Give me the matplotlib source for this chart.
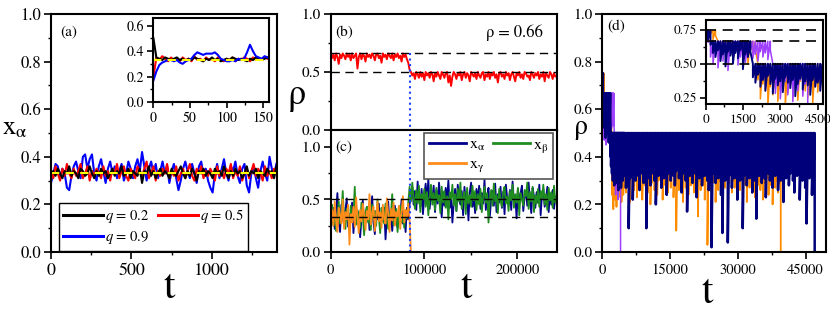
import numpy as np
import matplotlib
matplotlib.use('Agg')
import matplotlib.pyplot as plt
from matplotlib.ticker import MultipleLocator, FixedLocator

plt.rcParams['font.family'] = ['STIXGeneral', 'DejaVu Serif']
plt.rcParams['mathtext.fontset'] = 'stix'

# ---------------- data: panel (a) ----------------
a_q_labels = [r'$q$ = 0.2', r'$q$ = 0.5', r'$q$ = 0.9']
a_tmax = 1400
a_black = [0.33, 0.34, 0.32, 0.35, 0.33, 0.31, 0.34, 0.33, 0.36, 0.32,
           0.34, 0.33, 0.31, 0.35, 0.34, 0.32, 0.33, 0.36, 0.33, 0.31,
           0.34, 0.32, 0.35, 0.33, 0.34, 0.31, 0.33, 0.35, 0.32, 0.34,
           0.33, 0.36, 0.32, 0.33, 0.35, 0.31, 0.34, 0.33, 0.32, 0.35,
           0.29, 0.34, 0.33, 0.36, 0.32, 0.34, 0.31, 0.33, 0.35, 0.32,
           0.34, 0.33, 0.31, 0.35, 0.33, 0.32, 0.34, 0.36, 0.33, 0.31,
           0.34, 0.32, 0.35, 0.33, 0.30, 0.34, 0.33, 0.35, 0.32, 0.34,
           0.33, 0.31, 0.35, 0.33, 0.34, 0.32, 0.36, 0.33, 0.31, 0.34,
           0.32, 0.35, 0.33, 0.34, 0.31, 0.33, 0.36, 0.32, 0.34, 0.33,
           0.35, 0.31, 0.34, 0.33, 0.32, 0.35, 0.33, 0.34, 0.31, 0.36]
a_red = [0.34, 0.31, 0.36, 0.33, 0.30, 0.35, 0.32, 0.37, 0.33, 0.31,
         0.35, 0.32, 0.34, 0.37, 0.31, 0.33, 0.36, 0.30, 0.34, 0.32,
         0.35, 0.33, 0.31, 0.36, 0.32, 0.34, 0.30, 0.35, 0.33, 0.37,
         0.31, 0.34, 0.36, 0.32, 0.30, 0.35, 0.33, 0.31, 0.36, 0.34,
         0.32, 0.35, 0.38, 0.31, 0.33, 0.36, 0.30, 0.34, 0.32, 0.35,
         0.33, 0.37, 0.31, 0.34, 0.32, 0.36, 0.30, 0.33, 0.35, 0.31,
         0.34, 0.37, 0.32, 0.30, 0.35, 0.33, 0.36, 0.31, 0.34, 0.32,
         0.35, 0.33, 0.30, 0.36, 0.32, 0.34, 0.31, 0.35, 0.33, 0.37,
         0.31, 0.34, 0.32, 0.36, 0.30, 0.33, 0.35, 0.31, 0.34, 0.37,
         0.32, 0.35, 0.33, 0.30, 0.36, 0.32, 0.34, 0.31, 0.35, 0.33]
a_blue = [0.29, 0.33, 0.37, 0.36, 0.31, 0.35, 0.33, 0.27, 0.26, 0.32,
          0.36, 0.38, 0.34, 0.31, 0.40, 0.41, 0.35, 0.39, 0.41, 0.33,
          0.30, 0.36, 0.39, 0.34, 0.29, 0.35, 0.38, 0.33, 0.36, 0.31,
          0.34, 0.37, 0.30, 0.33, 0.38, 0.35, 0.31, 0.36, 0.39, 0.34,
          0.42, 0.36, 0.30, 0.35, 0.38, 0.33, 0.37, 0.31, 0.34, 0.38,
          0.33, 0.36, 0.29, 0.34, 0.37, 0.31, 0.26, 0.30, 0.35, 0.38,
          0.34, 0.31, 0.37, 0.33, 0.29, 0.36, 0.38, 0.32, 0.35, 0.30,
          0.27, 0.25, 0.33, 0.37, 0.31, 0.35, 0.39, 0.33, 0.30, 0.36,
          0.34, 0.38, 0.32, 0.29, 0.35, 0.37, 0.28, 0.25, 0.33, 0.36,
          0.31, 0.27, 0.34, 0.38, 0.33, 0.30, 0.40, 0.35, 0.32, 0.37]
a_ref = 0.333
# inset of (a): early times, step 4
a_in_tmax = 156
a_in_black = [0.50, 0.35, 0.34, 0.33, 0.35, 0.34, 0.33, 0.34, 0.35, 0.33,
              0.34, 0.32, 0.34, 0.33, 0.35, 0.34, 0.33, 0.32, 0.34, 0.33,
              0.35, 0.33, 0.34, 0.32, 0.33, 0.34, 0.33, 0.35, 0.34, 0.33,
              0.34, 0.33, 0.32, 0.34, 0.33, 0.35, 0.34, 0.33, 0.34, 0.35]
a_in_red = [0.20, 0.35, 0.33, 0.36, 0.34, 0.32, 0.35, 0.33, 0.34, 0.32,
            0.35, 0.33, 0.34, 0.32, 0.36, 0.33, 0.34, 0.32, 0.35, 0.33,
            0.34, 0.32, 0.35, 0.33, 0.32, 0.34, 0.33, 0.35, 0.32, 0.34,
            0.33, 0.35, 0.34, 0.32, 0.35, 0.33, 0.34, 0.33, 0.35, 0.34]
a_in_blue = [0.17, 0.24, 0.29, 0.31, 0.32, 0.33, 0.33, 0.32, 0.33, 0.31,
             0.30, 0.32, 0.33, 0.34, 0.37, 0.39, 0.38, 0.37, 0.38, 0.38,
             0.38, 0.39, 0.37, 0.34, 0.33, 0.32, 0.32, 0.33, 0.32, 0.34,
             0.33, 0.34, 0.39, 0.45, 0.40, 0.36, 0.35, 0.34, 0.36, 0.35]

# ---------------- data: panels (b), (c) ----------------
bc_tmax = 242000
switch_time = 85000
b_rho_label = 'ρ = 0.66'
b_levels = [0.66, 0.5]
c_levels = [0.5, 0.333]
b_rho = [0.66, 0.62, 0.65, 0.60, 0.66, 0.63, 0.57, 0.65, 0.62, 0.66,
         0.64, 0.61, 0.66, 0.63, 0.65, 0.60, 0.66, 0.62, 0.64, 0.66,
         0.53, 0.63, 0.66, 0.61, 0.65, 0.64, 0.59, 0.66, 0.63, 0.65,
         0.62, 0.66, 0.64, 0.60, 0.65, 0.66, 0.62, 0.64, 0.58, 0.66,
         0.63, 0.65, 0.61, 0.66, 0.64, 0.62, 0.66, 0.60, 0.65, 0.63,
         0.66, 0.62, 0.64, 0.59, 0.66, 0.63, 0.65, 0.61, 0.58, 0.52,
         0.50, 0.47, 0.49, 0.44, 0.50, 0.48, 0.45, 0.50, 0.46, 0.49,
         0.43, 0.50, 0.47, 0.49, 0.45, 0.50, 0.48, 0.42, 0.49, 0.46,
         0.50, 0.47, 0.44, 0.50, 0.48, 0.45, 0.49, 0.50, 0.41, 0.47,
         0.38, 0.46, 0.50, 0.48, 0.44, 0.49, 0.47, 0.50, 0.43, 0.48,
         0.50, 0.45, 0.49, 0.47, 0.42, 0.50, 0.48, 0.46, 0.49, 0.44,
         0.50, 0.47, 0.45, 0.49, 0.50, 0.43, 0.48, 0.46, 0.50, 0.44,
         0.49, 0.47, 0.50, 0.45, 0.48, 0.41, 0.49, 0.50, 0.46, 0.48,
         0.44, 0.50, 0.47, 0.49, 0.43, 0.48, 0.50, 0.46, 0.42, 0.49,
         0.47, 0.50, 0.45, 0.48, 0.44, 0.50, 0.49, 0.46, 0.47, 0.43,
         0.50, 0.48, 0.45, 0.49, 0.47, 0.50, 0.44, 0.48, 0.46, 0.50,
         0.42, 0.49, 0.47, 0.45, 0.50, 0.48, 0.44, 0.49, 0.46, 0.47]
c_labels = [r'x$_{\mathrm{\alpha}}$', r'x$_{\mathrm{\beta}}$', r'x$_{\mathrm{\gamma}}$']
c_alpha = [0.35, 0.28, 0.42, 0.22, 0.38, 0.56, 0.30, 0.19, 0.45, 0.33,
           0.26, 0.40, 0.51, 0.24, 0.36, 0.29, 0.47, 0.18, 0.34, 0.41,
           0.27, 0.38, 0.14, 0.32, 0.49, 0.25, 0.37, 0.30, 0.43, 0.21,
           0.36, 0.53, 0.28, 0.17, 0.39, 0.31, 0.46, 0.24, 0.35, 0.29,
           0.42, 0.12, 0.33, 0.48, 0.26, 0.38, 0.20, 0.35, 0.44, 0.30,
           0.23, 0.40, 0.33, 0.50, 0.27, 0.37, 0.19, 0.42, 0.31, 0.45,
           0.55, 0.62, 0.45, 0.58, 0.40, 0.67, 0.50, 0.43, 0.60, 0.36,
           0.54, 0.65, 0.47, 0.70, 0.41, 0.56, 0.49, 0.63, 0.38, 0.59,
           0.46, 0.66, 0.52, 0.33, 0.57, 0.44, 0.61, 0.50, 0.68, 0.42,
           0.55, 0.28, 0.47, 0.60, 0.39, 0.64, 0.51, 0.45, 0.58, 0.35,
           0.62, 0.48, 0.54, 0.30, 0.57, 0.66, 0.43, 0.52, 0.37, 0.60,
           0.49, 0.63, 0.41, 0.56, 0.46, 0.69, 0.40, 0.53, 0.61, 0.34,
           0.50, 0.58, 0.44, 0.65, 0.38, 0.55, 0.47, 0.62, 0.42, 0.57,
           0.36, 0.64, 0.51, 0.45, 0.59, 0.40, 0.67, 0.48, 0.54, 0.32,
           0.60, 0.46, 0.56, 0.63, 0.39, 0.52, 0.58, 0.44, 0.66, 0.49,
           0.37, 0.61, 0.53, 0.42, 0.57, 0.47, 0.64, 0.35, 0.55, 0.60,
           0.43, 0.50, 0.62, 0.38, 0.56, 0.45, 0.59, 0.41, 0.53, 0.48]
c_beta = [0.30, 0.45, 0.25, 0.39, 0.20, 0.33, 0.48, 0.27, 0.36, 0.58,
          0.31, 0.22, 0.41, 0.34, 0.19, 0.44, 0.29, 0.37, 0.62, 0.26,
          0.40, 0.32, 0.23, 0.47, 0.35, 0.16, 0.38, 0.43, 0.28, 0.34,
          0.21, 0.45, 0.31, 0.39, 0.25, 0.50, 0.33, 0.18, 0.42, 0.36,
          0.27, 0.46, 0.30, 0.22, 0.38, 0.34, 0.55, 0.26, 0.31, 0.41,
          0.19, 0.37, 0.44, 0.28, 0.35, 0.23, 0.40, 0.32, 0.47, 0.62,
          0.48, 0.66, 0.52, 0.41, 0.59, 0.46, 0.63, 0.38, 0.55, 0.50,
          0.60, 0.43, 0.57, 0.35, 0.52, 0.64, 0.45, 0.56, 0.40, 0.61,
          0.49, 0.54, 0.37, 0.62, 0.47, 0.58, 0.42, 0.53, 0.31, 0.57,
          0.50, 0.64, 0.44, 0.55, 0.39, 0.60, 0.48, 0.66, 0.41, 0.52,
          0.57, 0.36, 0.61, 0.46, 0.54, 0.43, 0.63, 0.49, 0.58, 0.40,
          0.55, 0.45, 0.60, 0.38, 0.53, 0.62, 0.47, 0.56, 0.28, 0.51,
          0.59, 0.44, 0.65, 0.48, 0.54, 0.37, 0.60, 0.50, 0.43, 0.57,
          0.62, 0.46, 0.53, 0.39, 0.58, 0.49, 0.64, 0.42, 0.55, 0.47,
          0.61, 0.35, 0.56, 0.50, 0.44, 0.59, 0.53, 0.66, 0.41, 0.57,
          0.48, 0.62, 0.38, 0.54, 0.46, 0.60, 0.43, 0.58, 0.51, 0.64,
          0.45, 0.55, 0.40, 0.61, 0.49, 0.57, 0.42, 0.63, 0.47, 0.52]
c_gamma = [0.33, 0.40, 0.25, 0.48, 0.30, 0.19, 0.42, 0.35, 0.27, 0.50,
           0.22, 0.38, 0.31, 0.45, 0.07, 0.36, 0.28, 0.43, 0.24, 0.52,
           0.33, 0.18, 0.40, 0.29, 0.46, 0.35, 0.21, 0.39, 0.31, 0.55,
           0.26, 0.37, 0.43, 0.20, 0.34, 0.48, 0.29, 0.38, 0.23, 0.45,
           0.32, 0.27, 0.51, 0.36, 0.19, 0.41, 0.30, 0.47, 0.25, 0.38,
           0.34, 0.44, 0.22, 0.37, 0.53, 0.28, 0.40, 0.33, 0.46, 0.30] + [0.0] * 110

# ---------------- data: panel (d) ----------------
d_levels = [0.75, 0.667, 0.5]
# navy
d_navy_changes = [300, 1900]
d_navy_early = [0.66, 0.68, 0.64,
                0.58, 0.55, 0.60, 0.52, 0.57, 0.48, 0.59, 0.56, 0.50, 0.58,
                0.54, 0.60, 0.46, 0.57, 0.55, 0.59,
                0.40, 0.36, 0.42, 0.33, 0.38, 0.30, 0.41, 0.35, 0.28, 0.39,
                0.34, 0.37, 0.29, 0.40, 0.36, 0.32, 0.38, 0.26, 0.35, 0.39,
                0.31, 0.37, 0.34, 0.27, 0.38, 0.33, 0.36, 0.30, 0.39, 0.35, 0.32]
d_navy_late = [0.33, 0.27, 0.36, 0.10, 0.31, 0.35, 0.22, 0.34, 0.30, 0.37,
               0.32, 0.26, 0.35, 0.33, 0.29, 0.36, 0.10, 0.34, 0.31, 0.28,
               0.36, 0.33, 0.30, 0.20, 0.35, 0.32, 0.37, 0.27, 0.34, 0.31,
               0.36, 0.24, 0.33, 0.35, 0.30, 0.37, 0.32, 0.28, 0.34, 0.36,
               0.31, 0.35, 0.25, 0.33, 0.37, 0.30, 0.17, 0.34, 0.32, 0.36,
               0.29, 0.35, 0.33, 0.23, 0.36, 0.31, 0.34, 0.28, 0.37, 0.32,
               0.35, 0.30, 0.26, 0.34, 0.02, 0.33, 0.36, 0.29, 0.35, 0.31,
               0.37, 0.24, 0.08, 0.33, 0.30, 0.36, 0.04, 0.32, 0.35, 0.27,
               0.34, 0.31, 0.36, 0.22, 0.33, 0.30, 0.35, 0.10, 0.32, 0.37,
               0.28, 0.34, 0.31, 0.36, 0.25, 0.33, 0.30, 0.14, 0.35, 0.32,
               0.37, 0.29, 0.34, 0.31, 0.23, 0.36, 0.33, 0.30, 0.35, 0.27,
               0.34, 0.32, 0.37, 0.26, 0.33, 0.30, 0.36, 0.21, 0.34, 0.31,
               0.35, 0.28, 0.33, 0.37, 0.30, 0.25, 0.34, 0.32, 0.36, 0.22,
               0.33, 0.30, 0.35, 0.27, 0.12, 0.34, 0.31, 0.36, 0.24, 0.33,
               0.00]
# orange
d_orange_changes = [500, 2100]
d_orange_early = [0.70, 0.66, 0.72, 0.68, 0.71,
                  0.60, 0.63, 0.56, 0.62, 0.58, 0.64, 0.55, 0.61, 0.59, 0.63,
                  0.57, 0.62, 0.50, 0.60, 0.58, 0.61,
                  0.38, 0.24, 0.35, 0.30, 0.18, 0.33, 0.27, 0.36, 0.22, 0.31,
                  0.34, 0.19, 0.29, 0.35, 0.26, 0.32, 0.23, 0.37, 0.28, 0.30,
                  0.25, 0.34, 0.21, 0.33, 0.29, 0.36, 0.24, 0.31, 0.27]
d_orange_late = [0.30, 0.25, 0.33, 0.28, 0.21, 0.34, 0.29, 0.26, 0.32, 0.23,
                 0.31, 0.27, 0.34, 0.22, 0.30, 0.28, 0.33, 0.25, 0.31, 0.20,
                 0.29, 0.34, 0.26, 0.32, 0.24, 0.30, 0.33, 0.27, 0.22, 0.31,
                 0.28, 0.34, 0.25, 0.30, 0.27, 0.33, 0.23, 0.29, 0.09, 0.31,
                 0.26, 0.33, 0.28, 0.21, 0.32, 0.27, 0.30, 0.24, 0.34, 0.28,
                 0.31, 0.25, 0.29, 0.33, 0.15, 0.30, 0.26, 0.32, 0.28, 0.22,
                 0.30, 0.03, 0.27, 0.33, 0.25, 0.29, 0.31, 0.21, 0.34, 0.26,
                 0.30, 0.28, 0.23, 0.32, 0.27, 0.31, 0.19, 0.29, 0.33, 0.25,
                 0.30, 0.27, 0.32, 0.22, 0.29, 0.26, 0.33, 0.24, 0.30, 0.28,
                 0.21, 0.31, 0.27, 0.33, 0.25, 0.29, 0.23, 0.32, 0.28, 0.30,
                 0.26, 0.33, 0.22, 0.29, 0.27, 0.31, 0.24, 0.30, 0.28, 0.20,
                 0.32, 0.27, 0.30, 0.25, 0.29, 0.00]
# purple
d_purple_changes = [200, 2700]
d_purple = [0.62, 0.66,
            0.55, 0.50, 0.58, 0.47, 0.56, 0.52, 0.60, 0.45, 0.57, 0.53,
            0.59, 0.49, 0.55, 0.58, 0.51, 0.56, 0.60, 0.54, 0.57, 0.52,
            0.59, 0.55, 0.58, 0.53, 0.60,
            0.35, 0.28, 0.38, 0.24, 0.33, 0.37, 0.27, 0.36, 0.22, 0.34,
            0.30, 0.38, 0.26, 0.35, 0.00]

# ---------------- figure ----------------
W, H = 830, 311
fig = plt.figure(figsize=(W / 100, H / 100), dpi=100)


def ax_px(l, t, r, b):
    return fig.add_axes([l / W, (H - b) / H, (r - l) / W, (b - t) / H])


def style(ax, xs=11, ys=11, major=5, minor=2.5):
    for s in ax.spines.values():
        s.set_linewidth(1.5)
    ax.tick_params(which='both', direction='out', top=False, right=False)
    ax.tick_params(which='major', length=major, width=1.2)
    ax.tick_params(which='minor', length=minor, width=1.0)
    ax.tick_params(axis='x', labelsize=xs, pad=3)
    ax.tick_params(axis='y', labelsize=ys, pad=2)


dash = (0, (6, 4))

# ----- (a) -----
ax = ax_px(51, 14, 277, 252)
ta = np.linspace(0, a_tmax, len(a_black))
lb, = ax.plot(ta, a_blue, color='#0000ff', lw=1.5)
lr, = ax.plot(ta, a_red, color='#ff0000', lw=1.5)
lk, = ax.plot(ta, a_black, color='black', lw=1.5)
ax.axhline(a_ref, color='#ffff00', lw=1.5, ls=(0, (4, 3)))
ax.set_xlim(0, 1404)
ax.set_ylim(0, 1.0)
ax.xaxis.set_major_locator(MultipleLocator(500))
ax.xaxis.set_minor_locator(MultipleLocator(250))
ax.yaxis.set_major_locator(MultipleLocator(0.2))
ax.yaxis.set_minor_locator(MultipleLocator(0.1))
style(ax, xs=13, ys=12)
ax.text(0.04, 0.925, '(a)', transform=ax.transAxes, fontsize=11, va='center')
# column-major fill: col1 = q0.2, q0.9 ; col2 = q0.5
leg = ax.legend(handles=[lk, lb, lr],
                labels=[a_q_labels[0], a_q_labels[2], a_q_labels[1]], ncol=2,
                loc='lower left', bbox_to_anchor=(0.035, 0.005), borderaxespad=0,
                fontsize=10.5, handlelength=2.7, handletextpad=0.15,
                columnspacing=0.6, fancybox=False, framealpha=1,
                edgecolor='black', borderpad=0.3, labelspacing=0.3)
leg.get_frame().set_linewidth(1.0)
for h in leg.get_lines():
    h.set_linewidth(2.2)

axi = ax_px(152.7, 18, 269, 102)
tai = np.linspace(0, a_in_tmax, len(a_in_blue))
axi.plot(tai, a_in_red, color='#ff0000', lw=1.5)
axi.plot(tai, a_in_black, color='black', lw=1.5)
axi.plot(tai, a_in_blue, color='#0000ff', lw=1.5)
axi.axhline(a_ref, color='#ffff00', lw=1.5, ls=(0, (4, 3)))
axi.set_xlim(-1, 158)
axi.set_ylim(0, 0.66)
axi.xaxis.set_major_locator(MultipleLocator(50))
axi.xaxis.set_minor_locator(MultipleLocator(25))
axi.yaxis.set_major_locator(MultipleLocator(0.2))
axi.yaxis.set_minor_locator(MultipleLocator(0.1))
style(axi, xs=10, ys=10, major=4, minor=2)

# ----- (b) -----
tbc = np.linspace(0, bc_tmax, len(b_rho))
axb = ax_px(330.7, 14, 556.7, 130)
axb.plot(tbc, b_rho, color='#ff0000', lw=1.4)
for lv in b_levels:
    axb.axhline(lv, color='black', lw=1.0, ls=dash)
axb.plot([switch_time, switch_time], [b_levels[0], 0], color='#2040ff', lw=1.5, ls=':')
axb.set_xlim(0, bc_tmax)
axb.set_ylim(0, 1.0)
axb.yaxis.set_major_locator(FixedLocator([0.0, 0.5, 1.0]))
axb.yaxis.set_minor_locator(FixedLocator([0.25, 0.75]))
style(axb, xs=10.5, ys=11)
axb.tick_params(axis='x', which='both', bottom=False, labelbottom=False)
axb.text(0.02, 0.84, '(b)', transform=axb.transAxes, fontsize=11, va='center')
axb.text(0.94, 0.84, b_rho_label, transform=axb.transAxes, fontsize=12,
         va='center', ha='right')

# ----- (c) -----
axc = ax_px(330.7, 130, 556.7, 252)
la, = axc.plot(tbc, c_alpha, color='#00008b', lw=1.3)
lbe, = axc.plot(tbc, c_beta, color='#1e8c1e', lw=1.3)
lg, = axc.plot(tbc, c_gamma, color='#ff8c1a', lw=1.3)
for lv in c_levels:
    axc.axhline(lv, color='black', lw=1.0, ls=dash)
axc.axvline(switch_time, color='#2040ff', lw=1.5, ls=':')
axc.set_xlim(0, bc_tmax)
axc.set_ylim(0, 1.16)
axc.xaxis.set_major_locator(MultipleLocator(100000))
axc.xaxis.set_minor_locator(MultipleLocator(50000))
axc.yaxis.set_major_locator(FixedLocator([0.0, 0.5, 1.0]))
axc.yaxis.set_minor_locator(FixedLocator([0.25, 0.75]))
style(axc, xs=10.5, ys=11)
axc.text(0.02, 0.86, '(c)', transform=axc.transAxes, fontsize=11, va='center')
# column-major fill: col1 = alpha, gamma ; col2 = beta
legc = axc.legend(handles=[la, lg, lbe],
                  labels=[c_labels[0], c_labels[2], c_labels[1]], ncol=2,
                  loc='upper right', bbox_to_anchor=(0.985, 0.975), borderaxespad=0,
                  fontsize=11.5, handlelength=2.3, handletextpad=0.2,
                  columnspacing=0.5, fancybox=False, framealpha=1,
                  edgecolor='#555555', borderpad=0.3, labelspacing=0.25)
legc.get_frame().set_linewidth(1.2)
for h in legc.get_lines():
    h.set_linewidth(2.0)


# ----- (d) -----
def sawtooth(t, dips, changes, levels):
    top = np.asarray(levels)[np.searchsorted(changes, t, side='right')]
    x = np.repeat(t, 2)
    y = np.column_stack([top, np.asarray(dips)]).ravel()
    return x, y


t_navy = np.concatenate([np.arange(0, 5000, 100), np.arange(5000, 47001, 300)])
t_orange = np.concatenate([np.arange(0, 5000, 100), np.arange(5000, 39501, 300)])
t_purple = np.arange(0, 4200, 100)
navy_x, navy_y = sawtooth(t_navy, d_navy_early + d_navy_late, d_navy_changes, d_levels)
or_x, or_y = sawtooth(t_orange, d_orange_early + d_orange_late, d_orange_changes, d_levels)
pu_x, pu_y = sawtooth(t_purple, d_purple, d_purple_changes, d_levels)

axd = ax_px(602, 14, 826, 252)
axd.plot(or_x, or_y, color='#ff8c00', lw=1.3)
axd.plot(pu_x, pu_y, color='#a040ff', lw=1.1)
axd.plot(navy_x, navy_y, color='#00007a', lw=1.8)
axd.set_xlim(0, 49500)
axd.set_ylim(0, 1.0)
axd.xaxis.set_major_locator(MultipleLocator(15000))
axd.xaxis.set_minor_locator(MultipleLocator(7500))
axd.yaxis.set_major_locator(MultipleLocator(0.2))
axd.yaxis.set_minor_locator(MultipleLocator(0.1))
style(axd, xs=10.5, ys=11)
axd.text(0.025, 0.945, '(d)', transform=axd.transAxes, fontsize=11, va='center')

axdi = ax_px(705.5, 20, 822.7, 104.3)
axdi.plot(or_x, or_y, color='#ff8c00', lw=1.1)
axdi.plot(pu_x, pu_y, color='#a040ff', lw=1.1)
axdi.plot(navy_x, navy_y, color='#00007a', lw=1.4)
for lv in d_levels:
    axdi.axhline(lv, color='black', lw=1.2, ls=dash)
axdi.set_xlim(0, 4700)
axdi.set_ylim(0.2, 0.824)
axdi.xaxis.set_major_locator(MultipleLocator(1500))
axdi.xaxis.set_minor_locator(MultipleLocator(750))
axdi.yaxis.set_major_locator(FixedLocator([0.25, 0.5, 0.75]))
axdi.yaxis.set_minor_locator(FixedLocator([0.375, 0.625]))
style(axdi, xs=9.5, ys=9.5, major=4, minor=2)
axdi.set_yticklabels(['0.25', '0.50', '0.75'])

# ----- axis titles (mathtext for tight boxes) -----
fig.text(2 / W, (H - 134) / H, r'$\mathrm{x}_{\mathrm{\alpha}}$', fontsize=19, ha='left', va='baseline')
fig.text(296 / W, (H - 104) / H, r'$\mathrm{\rho}$', fontsize=26, ha='center', va='baseline')
fig.text(580 / W, (H - 134) / H, r'$\mathrm{\rho}$', fontsize=20, ha='center', va='baseline')
fig.text(169 / W, (H - 298) / H, 't', fontsize=30, ha='center', va='baseline')
fig.text(466 / W, (H - 298) / H, 't', fontsize=30, ha='center', va='baseline')
fig.text(707 / W, (H - 303) / H, 't', fontsize=30, ha='center', va='baseline')

fig.savefig('out.png', dpi=100)
